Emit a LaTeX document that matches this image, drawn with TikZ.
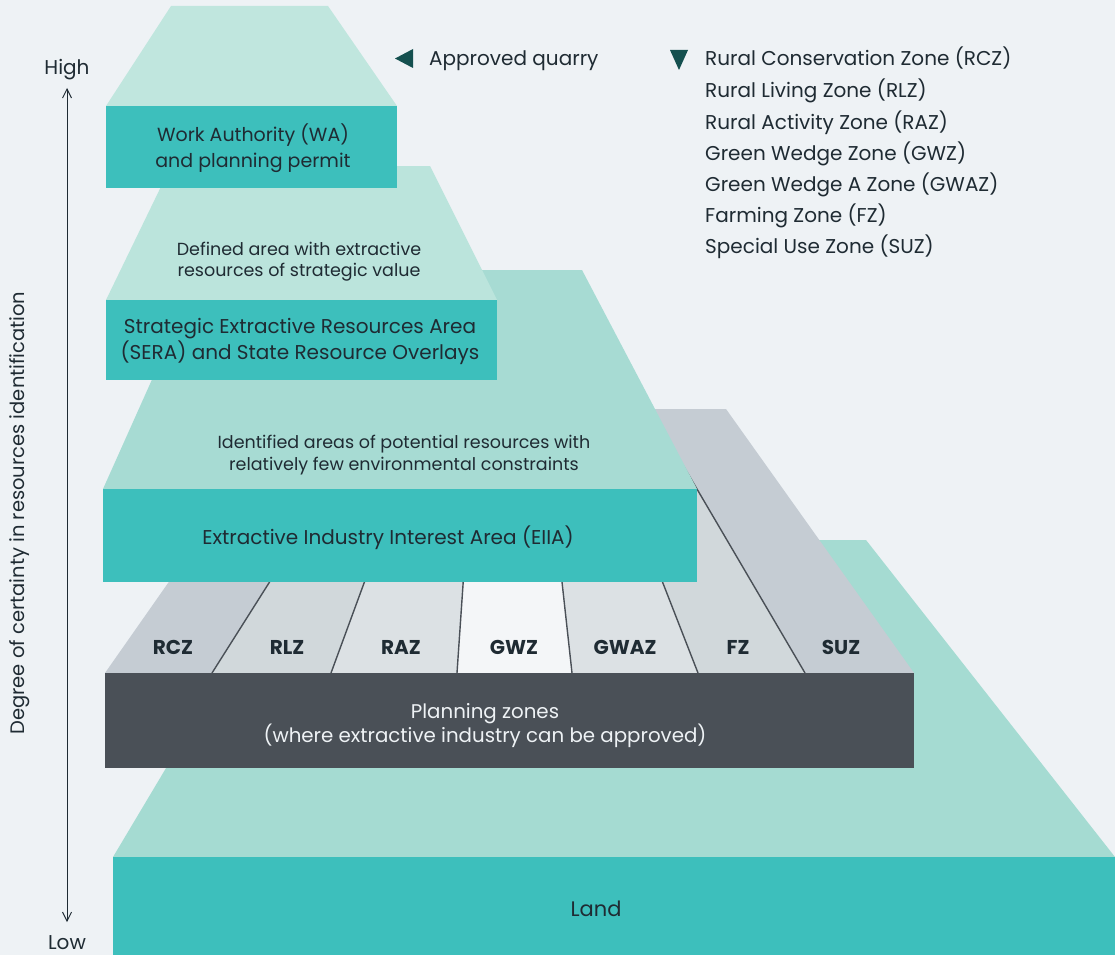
\documentclass[tikz,border=0pt]{standalone}
\usepackage{fontspec}
\setmainfont{Poppins}
\usetikzlibrary{arrows.meta}
\definecolor{bg}{HTML}{EEF2F5}
\definecolor{tealfront}{HTML}{3DBFBC}
\definecolor{watop}{HTML}{C0E6DE}
\definecolor{seratop}{HTML}{BBE4DC}
\definecolor{eiiatop}{HTML}{A7DBD3}
\definecolor{landtop}{HTML}{A5DBD2}
\definecolor{planning}{HTML}{4A5057}
\definecolor{zdark}{HTML}{C5CCD3}
\definecolor{zmid}{HTML}{D1D8DB}
\definecolor{zlight}{HTML}{DCE1E4}
\definecolor{zwhite}{HTML}{F4F6F8}
\definecolor{marker}{HTML}{14504F}
\definecolor{ink}{HTML}{1F2B33}
\begin{document}
\begin{tikzpicture}[x=1pt,y=-1pt,
  lbl/.style={text=ink,align=center,inner sep=0pt,font=\fontsize{19.5}{25}\selectfont},
  small/.style={text=ink,align=center,inner sep=0pt,font=\fontsize{17.5}{21.5}\selectfont},
  zone/.style={text=ink,inner sep=0pt,font=\fontsize{20}{22}\selectfont\bfseries},
  legend/.style={text=ink,anchor=base west,inner sep=0pt,font=\fontsize{20}{22}\selectfont},
  divider/.style={draw=planning,line width=1.4pt}]
\useasboundingbox (0,0) rectangle (1115,955);
\fill[bg] (0,0) rectangle (1115,955);

% ---------- Land layer ----------
\fill[landtop] (302,540) -- (866,540) -- (1115,857) -- (113,857) -- cycle;
\fill[tealfront] (113,857) rectangle (1115,955);

% ---------- Zone strip ----------
\coordinate (b0) at (105,673); \coordinate (t0) at (290,409);
\coordinate (b1) at (212,673); \coordinate (t1) at (379,409);
\coordinate (b2) at (331,673); \coordinate (t2) at (428,409);
\coordinate (b3) at (457,673); \coordinate (t3) at (475,409);
\coordinate (b4) at (572,673); \coordinate (t4) at (543,409);
\coordinate (b5) at (698,673); \coordinate (t5) at (595,409);
\coordinate (b6) at (805,673); \coordinate (t6) at (650,409);
\coordinate (b7) at (914,673); \coordinate (t7) at (726,409);
\fill[zdark]  (b0) -- (t0) -- (t1) -- (b1) -- cycle;
\fill[zmid]   (b1) -- (t1) -- (t2) -- (b2) -- cycle;
\fill[zlight] (b2) -- (t2) -- (t3) -- (b3) -- cycle;
\fill[zwhite] (b3) -- (t3) -- (t4) -- (b4) -- cycle;
\fill[zlight] (b4) -- (t4) -- (t5) -- (b5) -- cycle;
\fill[zmid]   (b5) -- (t5) -- (t6) -- (b6) -- cycle;
\fill[zdark]  (b6) -- (t6) -- (t7) -- (b7) -- cycle;
\foreach \i in {1,...,6}{\draw[divider] (b\i) -- (t\i);}

\node[zone] (rcz)  at (173,647) {RCZ};
\node[zone] (rlz)  at (287,647) {RLZ};
\node[zone] (raz)  at (401,647) {RAZ};
\node[zone] (gwz)  at (514,647) {GWZ};
\node[zone] (gwaz) at (625,647) {GWAZ};
\node[zone] (fz)   at (738,647) {FZ};
\node[zone] (suz)  at (841,647) {SUZ};

% planning front
\fill[planning] (105,673) rectangle (914,768);

% ---------- EIIA layer ----------
\fill[eiiatop] (201,270) -- (582,270) -- (697,489) -- (103,489) -- cycle;
\fill[tealfront] (103,489) rectangle (697,582);

% ---------- SERA layer ----------
\fill[seratop] (171,166) -- (430,166) -- (497,300) -- (106,300) -- cycle;
\fill[tealfront] (106,300) rectangle (497,380);

% ---------- WA layer ----------
\fill[watop] (171,6) -- (328,6) -- (397,106) -- (106,106) -- cycle;
\fill[tealfront] (106,106) rectangle (397,188);

% ---------- texts ----------
\node[lbl,font=\fontsize{19}{26}\selectfont] (wa) at (253,148.5) {Work Authority (WA)\\and planning permit};
\node[small] (defined) at (299,261.5) {Defined area with extractive\\resources of strategic value};
\node[lbl,font=\fontsize{20}{24}\selectfont] (sera) at (300,341.5) {Strategic Extractive Resources Area\\(SERA) and State Resource Overlays};
\node[small,font=\fontsize{17.5}{22}\selectfont] (ident) at (404,455) {Identified areas of potential resources with\\relatively few environmental constraints};
\node[lbl,font=\fontsize{20}{22}\selectfont] (eiia) at (388,537.5) {Extractive Industry Interest Area (EIIA)};
\node[lbl,text=bg,font=\fontsize{19.8}{24}\selectfont] (plan) at (485,726) {Planning zones\\(where extractive industry can be approved)};
\node[lbl,font=\fontsize{21}{22}\selectfont] (land) at (596,909) {Land};

% ---------- axis ----------
\node[lbl,font=\fontsize{20}{22}\selectfont] (high) at (67,69.5) {High};
\node[lbl,font=\fontsize{20}{22}\selectfont] (low) at (67,942.5) {Low};
\coordinate (atop) at (67,88);
\coordinate (abot) at (67,922);
\draw[ink,line width=0.9pt,{Straight Barb[length=9pt,width=9pt]}-{Straight Barb[length=9pt,width=9pt]}] (atop) -- (abot);
\node[lbl,rotate=90,font=\fontsize{19.5}{22}\selectfont] (axis) at (19.5,513) {Degree of certainty in resources identification};

% ---------- legend ----------
\fill[marker] (395,58.5) -- (413,49) -- (413,68) -- cycle;
\node[legend] (approved) at (429,66) {Approved quarry};
\fill[marker] (670,50) -- (688,50) -- (679,70) -- cycle;
\node[legend] (l1) at (705,66) {Rural Conservation Zone (RCZ)};
\node[legend] (l2) at (705,97.5) {Rural Living Zone (RLZ)};
\node[legend] (l3) at (705,129) {Rural Activity Zone (RAZ)};
\node[legend] (l4) at (705,160.5) {Green Wedge Zone (GWZ)};
\node[legend] (l5) at (705,191.5) {Green Wedge A Zone (GWAZ)};
\node[legend] (l6) at (705,222.5) {Farming Zone (FZ)};
\node[legend] (l7) at (705,253.5) {Special Use Zone (SUZ)};
\end{tikzpicture}
\end{document}
